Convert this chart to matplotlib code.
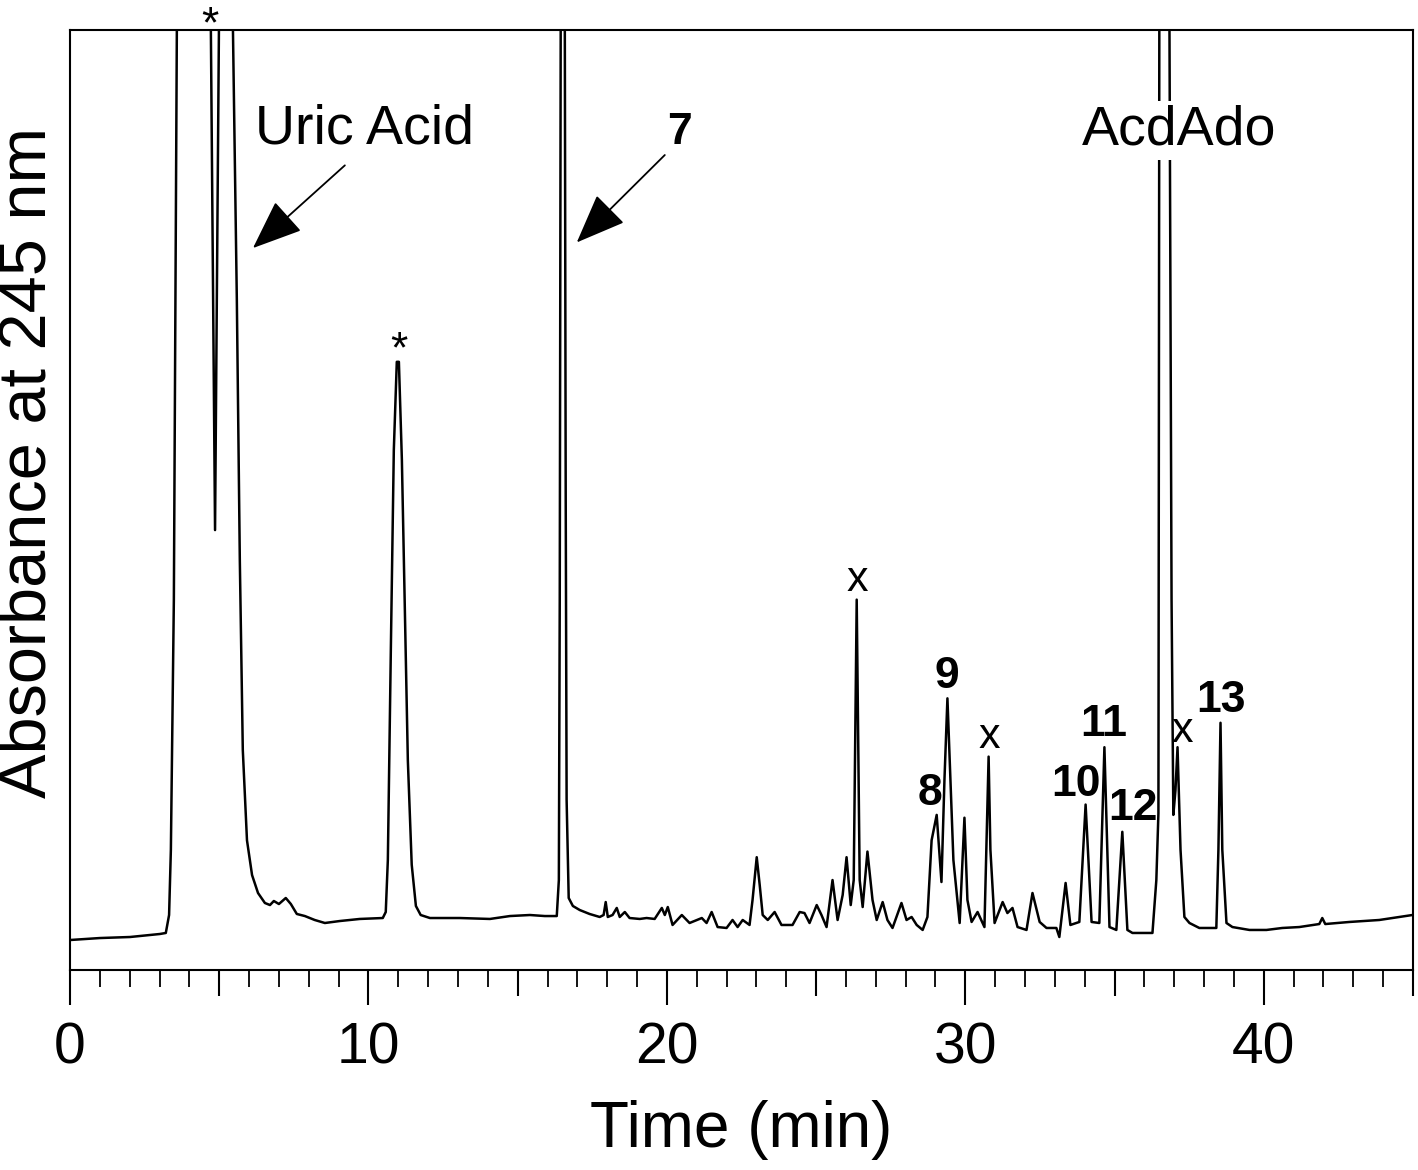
import matplotlib
matplotlib.use("Agg")
import matplotlib.pyplot as plt
from matplotlib.ticker import FixedLocator

plt.rcParams['font.family'] = ['Liberation Sans', 'DejaVu Sans']

# Chromatogram trace (time in min, relative absorbance at 245 nm, 0-100 = full scale)
time_min = [
    0.00, 1.00, 2.01, 3.01, 3.21, 3.32, 3.38, 3.48, 3.58, 4.19, 4.72, 4.86, 4.99, 5.22, 5.46,
    5.59, 5.69, 5.79, 5.93, 6.10, 6.30, 6.53, 6.70, 6.83, 7.00, 7.23, 7.40, 7.60, 7.87, 8.20,
    8.54, 9.04, 9.71, 10.48, 10.58, 10.65, 10.75, 10.85, 10.95, 11.02, 11.12, 11.22, 11.32,
    11.45, 11.59, 11.75, 12.06, 13.06, 14.07, 14.74, 15.41, 15.91, 16.31, 16.38, 16.41, 16.44,
    16.51, 16.58, 16.61, 16.64, 16.71, 16.85, 17.08, 17.41, 17.75, 17.88, 17.95, 18.02, 18.18,
    18.32, 18.42, 18.59, 18.75, 19.09,
    19.32, 19.59, 19.83, 19.93, 20.03, 20.19, 20.50, 20.76, 21.17, 21.33, 21.50, 21.70, 22.00,
    22.20, 22.37, 22.54, 22.77, 22.87, 23.01, 23.11, 23.21, 23.38, 23.61, 23.84, 24.21, 24.45,
    24.61, 24.78, 25.02, 25.18, 25.35, 25.55, 25.72, 25.89, 26.02, 26.16, 26.26, 26.36, 26.46,
    26.56, 26.72, 26.89, 27.03, 27.23, 27.39, 27.56, 27.86, 28.03, 28.20, 28.37, 28.57, 28.73,
    28.87, 29.04, 29.20, 29.30, 29.40, 29.50, 29.60, 29.81, 29.97, 30.07, 30.21, 30.41, 30.64,
    30.78, 30.84, 30.98, 31.25, 31.41, 31.58, 31.75, 32.05, 32.25, 32.49, 32.72, 33.05, 33.15,
    33.36, 33.52, 33.82, 34.03, 34.23, 34.49, 34.66, 34.83, 35.06, 35.26, 35.43, 35.60, 36.27,
    36.40, 36.47, 36.50, 36.67, 36.84, 36.91, 36.97, 37.04, 37.11, 37.21, 37.34, 37.51, 37.84,
    38.41, 38.48, 38.55, 38.61, 38.75, 38.95, 39.52, 40.09, 40.62, 41.19, 41.86, 41.96, 42.06,
    42.87, 43.87, 44.54, 44.98,
]
absorbance = [
    3.19, 3.40, 3.51, 3.83, 3.94, 5.85, 12.8, 39.4, 100, 146, 100, 46.8, 100, 135, 100,
    71.3, 43.6, 23.4, 13.8, 10.1, 8.19, 7.13, 6.91, 7.34, 7.02, 7.66, 7.02, 5.96, 5.74, 5.32,
    5.00, 5.21, 5.43, 5.53, 6.17, 11.7, 34.0, 55.3, 64.7, 64.7, 54.3, 38.3, 22.3,
    11.2, 6.81, 5.85, 5.53, 5.53, 5.43, 5.74, 5.85, 5.74, 5.74, 9.57, 39.4, 100,
    167, 100, 50.0, 18.1, 7.66, 6.81, 6.38, 5.96, 5.64, 5.85, 7.23, 5.64, 5.85,
    6.60, 5.64, 6.17, 5.53, 5.43,
    5.53, 5.43, 6.60, 5.85, 6.70, 4.79, 5.85, 5.00, 5.53, 5.00, 6.17, 4.57, 4.47,
    5.32, 4.57, 5.32, 4.79, 7.45, 12.0, 9.04, 5.85, 5.32, 6.17, 4.79, 4.79, 6.17,
    6.06, 5.00, 6.91, 5.85, 4.57, 9.57, 5.32, 7.98, 12.0, 6.91, 9.57, 39.4, 9.57,
    6.70, 12.6, 7.45, 5.32, 7.23, 5.32, 4.47, 7.13, 5.32, 5.64, 4.79, 4.26, 5.64,
    13.8, 16.5, 9.36, 20.2, 28.9, 20.2, 11.7, 5.00, 16.2, 7.45, 5.11, 6.17, 4.57,
    22.7, 12.8, 5.00, 7.23, 6.06, 6.60, 4.57, 4.26, 8.19, 5.11, 4.47, 4.47, 3.51,
    9.26, 4.79, 5.11, 17.6, 5.11, 5.00, 23.7, 4.57, 4.26, 14.7, 4.26, 3.94, 3.94,
    9.57, 16.7, 100, 167, 100, 39.4, 16.5, 19.1, 23.7, 12.8, 5.64, 5.00, 4.47,
    4.47, 12.8, 26.3, 12.8, 5.00, 4.57, 4.26, 4.26, 4.47, 4.57, 4.89, 5.53, 4.89,
    5.11, 5.32, 5.64, 5.85,
]

# Peak annotations
peak_labels = ["8", "9", "10", "11", "12", "13"]
peak_label_t = [28.83, 29.37, 33.72, 34.63, 35.60, 38.58]
peak_label_y = [18.8, 31.2, 19.7, 26.1, 17.2, 28.7]

x_marks_t = [26.39, 30.81, 37.27]
x_marks_y = [41.5, 24.8, 25.4]

star_t = [4.69, 11.02]
star_y = [100.4, 65.9]

x_major = [0, 10, 20, 30, 40]
x_mid = [5, 15, 25, 35, 45]
x_minor = [i for i in range(0, 46) if i % 5 != 0]

fig = plt.figure(figsize=(14.18, 11.7), dpi=100)
ax = fig.add_axes([70 / 1418, 200 / 1170, 1343 / 1418, 940 / 1170])
ax.plot(time_min, absorbance, color='black', lw=1.8, zorder=2)
ax.set_xlim(0, 45)
ax.set_ylim(0, 100)

for s in ax.spines.values():
    s.set_linewidth(1.5)

ax.set_yticks([])
ax.set_xticks(x_major)
ax.xaxis.set_minor_locator(FixedLocator(x_minor))
ax.tick_params(axis='x', which='major', direction='out', length=25, width=1.5,
               labelsize=41, pad=12)
ax.tick_params(axis='x', which='minor', direction='out', length=12, width=1.3)

ax2 = ax.twiny()
ax2.set_xlim(0, 45)
ax2.set_xticks(x_mid)
ax2.xaxis.set_ticks_position('bottom')
ax2.tick_params(axis='x', which='major', direction='out', length=19, width=1.5,
                labelbottom=False, labeltop=False, top=False, bottom=True)
for s in ax2.spines.values():
    s.set_visible(False)

ax.set_xlabel("Time (min)", fontsize=46, labelpad=18)
ax.set_ylabel("Absorbance at 245 nm", fontsize=48, va='center')
ax.yaxis.set_label_coords(-0.031, 0.54)

for lab, t, y in zip(peak_labels, peak_label_t, peak_label_y):
    ax.text(t, y, lab, fontsize=32, fontweight='bold', ha='center', va='center', zorder=4)
for t, y in zip(x_marks_t, x_marks_y):
    ax.text(t, y, "x", fontsize=31, ha='center', va='center', zorder=4)
for t, y in zip(star_t, star_y):
    ax.text(t, y, "*", fontsize=32, ha='center', va='center', clip_on=False, zorder=4)

ax.text(9.88, 89.4, "Uric Acid", fontsize=40, ha='center', va='center', zorder=4)
ax.text(20.43, 89.1, "7", fontsize=32, fontweight='bold', ha='center', va='center', zorder=4)
ax.text(37.17, 89.3, "AcdAdo", fontsize=40, ha='center', va='center', zorder=4,
        bbox=dict(facecolor='white', edgecolor='none', pad=3))

arrow = dict(arrowstyle='-|>,head_length=0.7,head_width=0.28', color='black', lw=1.3,
             mutation_scale=45, shrinkA=0, shrinkB=0)
ax.annotate("", xy=(6.13, 76.8), xytext=(9.21, 85.6), arrowprops=arrow)
ax.annotate("", xy=(16.98, 77.4), xytext=(19.93, 86.7), arrowprops=arrow)

fig.savefig("out.png", dpi=100)
